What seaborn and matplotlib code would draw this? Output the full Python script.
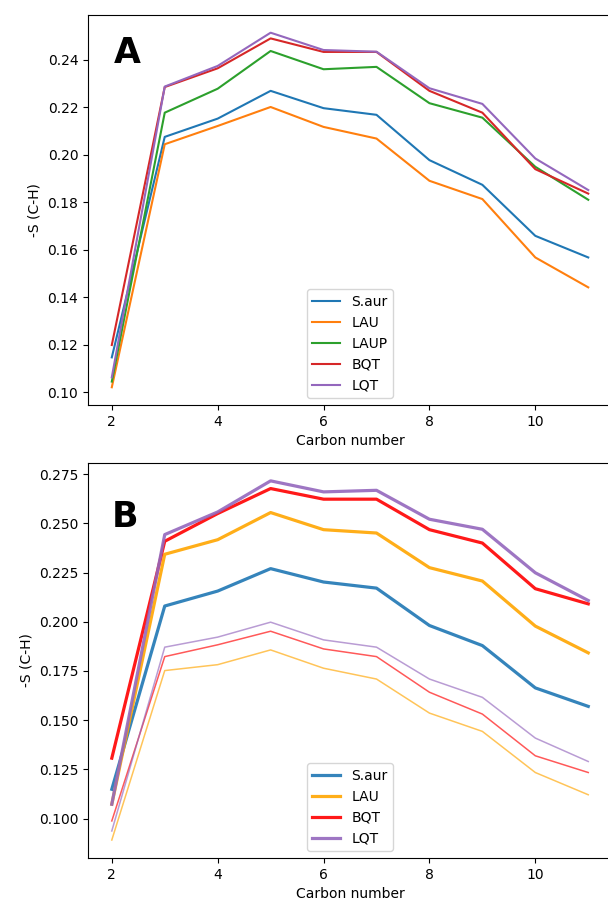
import numpy as np
import pandas as pd
import matplotlib
matplotlib.use("Agg")
import matplotlib.pyplot as plt
import seaborn as sns

# Carbon positions along the chain
carbon = [2, 3, 4, 5, 6, 7, 8, 9, 10, 11]

# Panel A order parameters
a_saur = [0.1147, 0.2076, 0.2153, 0.2270, 0.2197, 0.2169, 0.1978, 0.1874, 0.1659, 0.1568]
a_lau = [0.1021, 0.2045, 0.2122, 0.2202, 0.2118, 0.2069, 0.1891, 0.1814, 0.1568, 0.1442]
a_laup = [0.1045, 0.2178, 0.2279, 0.2438, 0.2361, 0.2371, 0.2218, 0.2157, 0.1950, 0.1811]
a_bqt = [0.1199, 0.2286, 0.2365, 0.2491, 0.2434, 0.2434, 0.2270, 0.2178, 0.1940, 0.1837]
a_lqt = [0.1063, 0.2288, 0.2375, 0.2515, 0.2442, 0.2435, 0.2281, 0.2215, 0.1985, 0.1852]

# Panel B, thick lines
b_saur = [0.1149, 0.2080, 0.2156, 0.2270, 0.2202, 0.2171, 0.1981, 0.1879, 0.1664, 0.1570]
b_lau = [0.1073, 0.2343, 0.2417, 0.2555, 0.2468, 0.2451, 0.2275, 0.2207, 0.1978, 0.1842]
b_bqt = [0.1307, 0.2409, 0.2550, 0.2677, 0.2623, 0.2623, 0.2468, 0.2400, 0.2168, 0.2091]
b_lqt = [0.1073, 0.2443, 0.2558, 0.2716, 0.2660, 0.2668, 0.2521, 0.2470, 0.2249, 0.2108]

# Panel B, thin lines
b_lau_thin = [0.0891, 0.1752, 0.1782, 0.1857, 0.1764, 0.1709, 0.1536, 0.1443, 0.1234, 0.1121]
b_bqt_thin = [0.0988, 0.1823, 0.1883, 0.1952, 0.1862, 0.1823, 0.1642, 0.1531, 0.1319, 0.1234]
b_lqt_thin = [0.0937, 0.1871, 0.1922, 0.1998, 0.1908, 0.1871, 0.1709, 0.1616, 0.1409, 0.1290]


def long_df(series):
    rows = []
    for name, vals in series.items():
        for c, v in zip(carbon, vals):
            rows.append({"carbon": c, "S": v, "system": name})
    return pd.DataFrame(rows)


df_a = long_df({"S.aur": a_saur, "LAU": a_lau, "LAUP": a_laup, "BQT": a_bqt, "LQT": a_lqt})
df_b = long_df({"S.aur": b_saur, "LAU": b_lau, "BQT": b_bqt, "LQT": b_lqt})
df_b_thin = long_df({"LAU": b_lau_thin, "BQT": b_bqt_thin, "LQT": b_lqt_thin})

pal_a = {"S.aur": "tab:blue", "LAU": "tab:orange", "LAUP": "tab:green",
         "BQT": "tab:red", "LQT": "tab:purple"}
pal_b = {"S.aur": "tab:blue", "LAU": "orange", "BQT": "red", "LQT": "tab:purple"}

fig = plt.figure(figsize=(6.08, 9.02), dpi=100)
ax1 = fig.add_axes([0.1447, 0.551, 0.862, 0.4324])
ax2 = fig.add_axes([0.1447, 0.0488, 0.862, 0.438])

# Panel A
sns.lineplot(data=df_a, x="carbon", y="S", hue="system", palette=pal_a,
             linewidth=1.5, ax=ax1)
ax1.legend(loc="lower center", fontsize=10)
ax1.set_xlabel("Carbon number")
ax1.set_ylabel("-S (C-H)")
ax1.text(0.05, 0.945, "A", transform=ax1.transAxes, fontsize=25,
         fontweight="bold", va="top")

# Panel B
sns.lineplot(data=df_b_thin, x="carbon", y="S", hue="system", palette=pal_b,
             linewidth=1.1, alpha=0.65, legend=False, ax=ax2)
sns.lineplot(data=df_b, x="carbon", y="S", hue="system", palette=pal_b,
             linewidth=2.3, alpha=0.9, ax=ax2)
ax2.legend(loc="lower center", fontsize=10)
ax2.set_xlabel("Carbon number")
ax2.set_ylabel("-S (C-H)")
ax2.text(0.045, 0.906, "B", transform=ax2.transAxes, fontsize=25,
         fontweight="bold", va="top")

fig.savefig("out.png", dpi=100)
